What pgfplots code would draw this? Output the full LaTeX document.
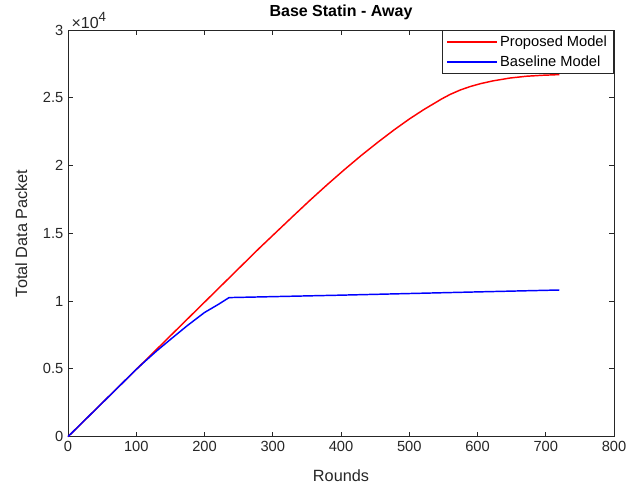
\documentclass[border=0pt]{standalone}
\usepackage{fontspec}
\setmainfont{Liberation Sans}
\usepackage{pgfplots}
\pgfplotsset{compat=1.18}
\definecolor{axgray}{rgb}{0.15,0.15,0.15}

\begin{document}
\begin{tikzpicture}
\begin{axis}[
    scale only axis,
    width=409.5pt,
    height=305pt,
    clip=false,
    xmin=0, xmax=800,
    ymin=0, ymax=30000,
    xtick={0,100,...,800},
    xticklabels={0,100,200,300,400,500,600,700,800},
    ytick={0,5000,...,30000},
    yticklabels={0,0.5,1,1.5,2,2.5,3},
    scaled y ticks=false,
    tick align=inside,
    major tick length=3.8pt,
    axis line style={axgray, line width=0.6pt},
    every tick/.style={axgray, line width=0.6pt},
    tick label style={font=\fontsize{11}{13}\selectfont, text=axgray},
    xlabel={Rounds},
    ylabel={Total Data Packet},
    xlabel style={at={(axis description cs:0.5,0)}, yshift=-29pt, anchor=center, font=\fontsize{12.2}{14}\selectfont, text=axgray},
    ylabel style={at={(axis description cs:0,0.5)}, yshift=35pt, anchor=center, font=\fontsize{12.2}{14}\selectfont, text=axgray},
    every axis title shift=0pt,
    title={\textbf{Base Statin - Away}},
    title style={at={(axis description cs:0.5,1)}, yshift=13pt, anchor=center, font=\fontsize{12}{14}\selectfont},
    legend style={at={(1,1)}, anchor=north east, font=\fontsize{11}{13}\selectfont, draw=axgray, line width=0.6pt,
        inner xsep=3pt, inner ysep=2pt, row sep=1.5pt},
    legend cell align=left,
    legend image code/.code={\draw[#1] (0pt,0pt) -- (37pt,0pt);},
]
\addplot[red, line width=1.1pt] coordinates {
    (0,0) (100,4960) (200,9920) (280,13890) (330,16280) (355,17460)
    (380,18600) (405,19700) (430,20760) (455,21760) (478,22640)
    (500,23430) (521,24120) (548,24930) (560,25250) (575,25580)
    (590,25840) (605,26050) (623,26250) (648,26460) (672,26590)
    (695,26660) (720,26710)
};
\addlegendentry{Proposed Model}
\addplot[blue, line width=1.1pt] coordinates {
    (0,0) (50,2480) (100,4960) (110,5430) (130,6330) (150,7170)
    (175,8200) (200,9160) (220,9750) (236,10260) (300,10330)
    (400,10440) (500,10560) (600,10680) (720,10820)
};
\addlegendentry{Baseline Model}
\node[anchor=south west, inner sep=1pt, xshift=1.5pt, font=\fontsize{12}{14}\selectfont, text=axgray] at (rel axis cs:0,1) {×10\raisebox{0.8ex}{\fontsize{10}{11}\selectfont 4}};
\end{axis}
\pgfresetboundingbox
\path ([shift={(-51pt,-34.5pt)}]current axis.south west) rectangle ([shift={(19.5pt,22.5pt)}]current axis.north east);
\end{tikzpicture}
\end{document}
